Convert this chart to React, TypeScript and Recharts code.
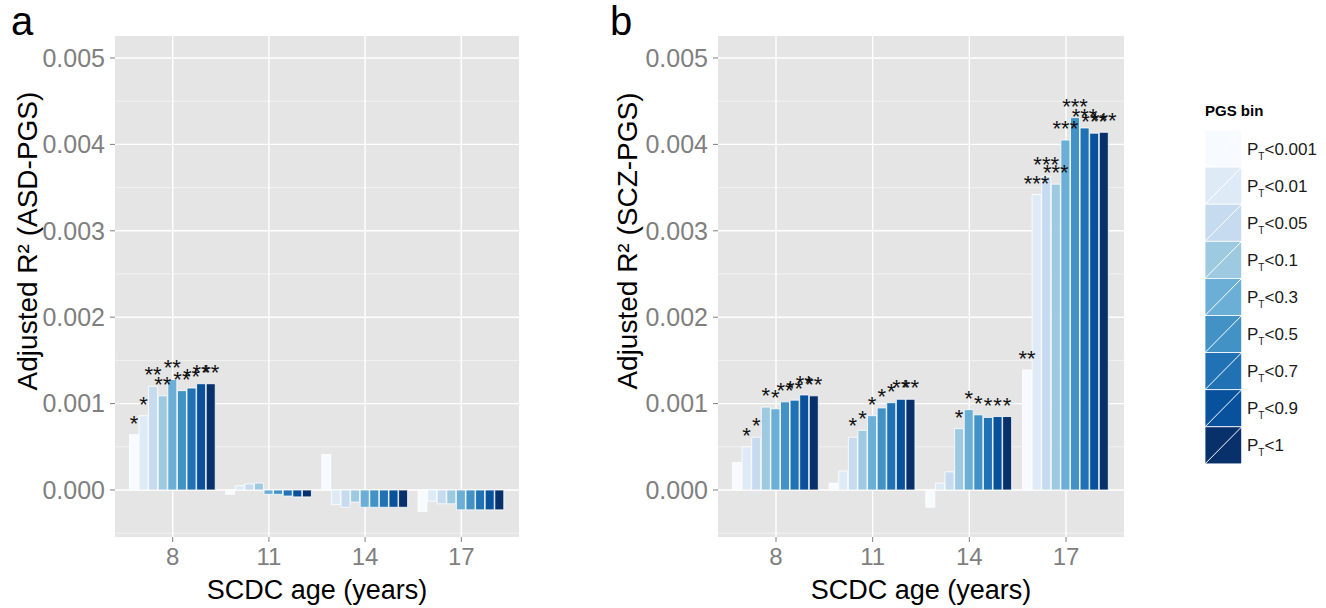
import React from "react";
import { Bar, BarChart, CartesianGrid, LabelList, XAxis, YAxis } from "recharts";

const ages = ["8", "11", "14", "17"];
const bins = ["0.001", "0.01", "0.05", "0.1", "0.3", "0.5", "0.7", "0.9", "1"];
const blues = ["#f7fbff", "#deebf7", "#c6dbef", "#9ecae1", "#6baed6", "#4292c6", "#2171b5", "#08519c", "#08306b"];

// adjusted R2 by age, one value per PGS bin (ASD)
const asd8 = [0.00064, 0.00086, 0.0012, 0.00109, 0.00128, 0.00115, 0.00118, 0.00123, 0.00123];
const asd11 = [-0.00005, 0.00005, 0.00007, 0.00008, -0.00005, -0.00005, -0.00007, -0.00008, -0.00008];
const asd14 = [0.00041, -0.00017, -0.0002, -0.00014, -0.0002, -0.0002, -0.0002, -0.0002, -0.0002];
const asd17 = [-0.00025, -0.00013, -0.00016, -0.00016, -0.00023, -0.00023, -0.00023, -0.00023, -0.00023];

const asdStars8 = ["*", "*", "**", "**", "**", "**", "**", "**", "**"];
const noStars = ["", "", "", "", "", "", "", "", ""];

// SCZ
const scz8 = [0.00032, 0.0005, 0.00061, 0.00096, 0.00094, 0.00102, 0.00104, 0.0011, 0.00109];
const scz11 = [0.00008, 0.00022, 0.00061, 0.00069, 0.00086, 0.00095, 0.00101, 0.00105, 0.00105];
const scz14 = [-0.0002, 0.00008, 0.00021, 0.00071, 0.00093, 0.00087, 0.00084, 0.00085, 0.00085];
const scz17 = [0.00139, 0.00342, 0.00363, 0.00354, 0.00405, 0.00431, 0.00419, 0.00413, 0.00414];

const sczStars8 = ["", "*", "*", "*", "*", "**", "**", "**", "**"];
const sczStars11 = ["", "", "*", "*", "*", "*", "*", "**", "**"];
const sczStars14 = ["", "", "", "*", "*", "*", "*", "*", "*"];
const sczStars17 = ["**", "***", "***", "***", "***", "***", "***", "***", "***"];

const majorTicks = [0, 0.001, 0.002, 0.003, 0.004, 0.005];
const minorTicks = [-0.0005, 0.0005, 0.0015, 0.0025, 0.0035, 0.0045];
const yDomain = [-0.000544, 0.0052546];

const FONT = "'Liberation Sans', Arial, Helvetica, sans-serif";

function buildRows(values: number[][], stars: string[][]) {
  return ages.map((age, i) => {
    const row: Record<string, any> = { age };
    values[i].forEach((v, j) => {
      row["b" + j] = v;
      row["s" + j] = stars[i][j];
    });
    return row;
  });
}

const asdRows = buildRows([asd8, asd11, asd14, asd17], [asdStars8, noStars, noStars, noStars]);
const sczRows = buildRows([scz8, scz11, scz14, scz17], [sczStars8, sczStars11, sczStars14, sczStars17]);

const renderStars = (props: any) => {
  const { x, y, width, value } = props;
  if (!value) return null;
  return (
    <text x={Number(x) + Number(width) / 2} y={Number(y) - 4} textAnchor="middle" fontSize={22} fontFamily={FONT} fill="#111">
      {value}
    </text>
  );
};

function Panel({ rows, yWidth, rightMargin }: { rows: any[]; yWidth: number; rightMargin: number }) {
  const plotWidth = 540 - yWidth - rightMargin;
  const pad = plotWidth / 42; // ggplot discrete expansion of 0.6 units
  // vertical grid lines through the centre of each age group
  const centerLines = ({ offset }: any) => {
    const band = (offset.width - 2 * pad) / ages.length;
    return ages.map((_, i) => offset.left + pad + band * (i + 0.5));
  };
  return (
    <BarChart
      width={540}
      height={608}
      data={rows}
      margin={{ top: 36, right: rightMargin, bottom: 0, left: 0 }}
      barCategoryGap="5%"
      barGap={0.6}
    >
      <CartesianGrid fill="#e5e5e5" stroke="#f2f2f2" strokeWidth={1} vertical={false} horizontalValues={minorTicks} />
      <CartesianGrid
        stroke="#ffffff"
        strokeWidth={1.4}
        horizontalValues={majorTicks}
        verticalCoordinatesGenerator={centerLines}
      />
      <XAxis
        dataKey="age"
        height={71}
        padding={{ left: pad, right: pad }}
        axisLine={false}
        tickLine={{ stroke: "#7f7f7f" }}
        tickSize={5}
        tickMargin={6}
        tick={{ fill: "#7f7f7f", fontSize: 24, fontFamily: FONT }}
      />
      <YAxis
        type="number"
        width={yWidth}
        domain={yDomain}
        allowDataOverflow
        ticks={majorTicks}
        tickFormatter={(v: number) => v.toFixed(3)}
        axisLine={false}
        tickLine={{ stroke: "#7f7f7f" }}
        tickSize={5}
        tickMargin={5}
        tick={{ fill: "#7f7f7f", fontSize: 25, fontFamily: FONT }}
      />
      {bins.map((b, j) => (
        <Bar key={b} dataKey={"b" + j} fill={blues[j]} stroke="#ffffff" strokeWidth={0.8} isAnimationActive={false}>
          <LabelList dataKey={"s" + j} content={renderStars} />
        </Bar>
      ))}
    </BarChart>
  );
}

function Legend() {
  const keyW = 36.7;
  const keyH = 37.1;
  return (
    <svg width={136} height={400} style={{ position: "absolute", left: 1190, top: 95 }}>
      <text x={15} y={21} fontSize={15} fontWeight="bold" fontFamily={FONT} fill="#000">
        PGS bin
      </text>
      {bins.map((b, i) => {
        const y = 35 + i * keyH;
        return (
          <g key={b}>
            <rect x={15} y={y} width={keyW} height={keyH} fill={blues[i]} stroke="#ffffff" strokeWidth={0.8} />
            <line x1={15} y1={y + keyH} x2={15 + keyW} y2={y} stroke="#ffffff" strokeWidth={1} />
            <text x={57} y={y + keyH / 2 + 6} fontSize={17} fontFamily={FONT} fill="#1a1a1a">
              P
              <tspan fontSize={10} dy={5}>
                T
              </tspan>
              <tspan dy={-5}>{"<" + b}</tspan>
            </text>
          </g>
        );
      })}
    </svg>
  );
}

const titleStyle: React.CSSProperties = {
  position: "absolute",
  fontFamily: FONT,
  color: "#000",
  whiteSpace: "nowrap",
};

export default function App() {
  return (
    <div style={{ position: "absolute", left: 0, top: 0, width: 1326, height: 608, background: "#fff", overflow: "hidden" }}>
      <div style={{ position: "absolute", left: 0, top: 0 }}>
        <Panel rows={asdRows} yWidth={115} rightMargin={21} />
      </div>
      <div style={{ position: "absolute", left: 600, top: 0 }}>
        <Panel rows={sczRows} yWidth={118} rightMargin={16} />
      </div>

      <div style={{ ...titleStyle, left: 11, top: -2, fontSize: 40, lineHeight: "46px" }}>a</div>
      <div style={{ ...titleStyle, left: 610, top: -2, fontSize: 40, lineHeight: "46px" }}>b</div>

      <div style={{ ...titleStyle, left: 115, width: 404, top: 574, fontSize: 27, lineHeight: "32px", textAlign: "center" }}>
        SCDC age (years)
      </div>
      <div style={{ ...titleStyle, left: 718, width: 406, top: 574, fontSize: 27, lineHeight: "32px", textAlign: "center" }}>
        SCDC age (years)
      </div>

      <div
        style={{
          ...titleStyle,
          left: 28 - 200,
          top: 241 - 16,
          width: 400,
          fontSize: 28,
          lineHeight: "32px",
          textAlign: "center",
          transform: "rotate(-90deg)",
        }}
      >
        Adjusted R² (ASD-PGS)
      </div>
      <div
        style={{
          ...titleStyle,
          left: 628 - 200,
          top: 241 - 16,
          width: 400,
          fontSize: 28,
          lineHeight: "32px",
          textAlign: "center",
          transform: "rotate(-90deg)",
        }}
      >
        Adjusted R² (SCZ-PGS)
      </div>

      <Legend />
    </div>
  );
}
